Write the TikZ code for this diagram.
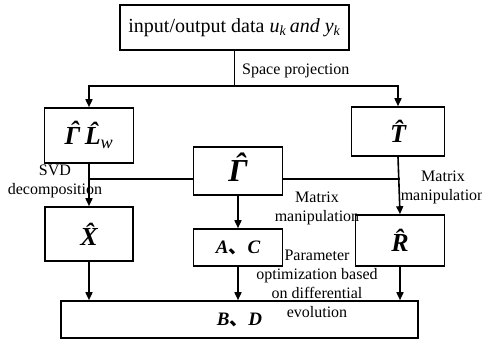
\documentclass[tikz,border=0pt]{standalone}
\usepackage{fontspec}
\setmainfont{Liberation Serif}
\newfontfamily\cjk{Noto Sans CJK SC}
\usetikzlibrary{positioning,arrows.meta,calc}
\newcommand{\hatgam}{\ooalign{Γ\cr\hidewidth\kern0.12em\raisebox{0.2em}{ˆ}\hidewidth\cr}}

\begin{document}
\begin{tikzpicture}[
    x=1pt, y=-1pt,
    block/.style={
        rectangle,
        draw=black,
        line width=1.6pt,
        inner sep=0pt,
        align=center,
        fill=white
    },
    symbox/.style={
        block,
        minimum width=89pt,
        font=\fontsize{26}{28}\selectfont\bfseries\itshape
    },
    pairbox/.style={
        block,
        minimum height=37pt,
        font=\fontsize{19}{21}\selectfont\bfseries\itshape
    },
    note/.style={
        font=\fontsize{16}{19}\selectfont,
        align=center,
        inner sep=0pt
    },
    link/.style={line width=1.6pt},
    arrow/.style={line width=1.6pt, -{Triangle[length=8pt,width=7pt]}}
]
\useasboundingbox (0,0) rectangle (482,341);

\node (data) [block, minimum width=229pt, minimum height=45pt, font=\fontsize{20}{24}\selectfont] at (234.5,27.5)
    {input/output data \textit{u}\textsubscript{\textit{k}}\,\textit{and y}\textsubscript{\textit{k}}};

\node (gl) [symbox, minimum height=55pt] at (89,135.5)
    {\hatgam\,\^{L}\textsubscript{\mdseries\itshape w}};
\node (tt) [symbox, minimum width=93pt, minimum height=49pt] at (398,131.5) {\^{T}};
\node (gm) [symbox, minimum height=48pt, font=\fontsize{32}{34}\selectfont\bfseries\itshape] at (238,171) {\hatgam};

\node (xx) [symbox, minimum width=88pt, minimum height=54pt] at (89,234) {\^{X}};
\node (ac) [pairbox, minimum width=89pt] at (238,247.5) {A{\cjk 、}C};
\node (rr) [symbox, minimum height=51pt] at (400,240.5) {\^{R}};

\node (bd) [pairbox, minimum width=357pt] at (239.5,319.5) {B{\cjk 、}D};

\coordinate (split) at ($(data.south)+(0,35)$);

\node (lproj) [note, anchor=west] at (242,71) {Space projection};
\node (lsvd) [note] at (55,181) {SVD\\decomposition};
\node (lmid) [note] at (317,208) {Matrix\\manipulation};
\node (lright) [note] at (443,187) {Matrix\\manipulation};
\node (lopt) [note] at (317,283.5) {Parameter\\optimization based\\on differential\\evolution};

\draw [link] (data.south) -- (split);
\draw [arrow] (split) -| (gl.north);
\draw [arrow] (split) -| (tt.north);
\draw [arrow] (gl.south) -- (xx.north);
\draw [arrow] (tt.south) -- (rr.north);
\draw [link] (gm.190) -- (gm.190 -| xx.north);
\draw [link] (gm.350) -- (gm.350 -| rr.north);
\draw [arrow] (gm.south) -- (ac.north);
\draw [arrow] (xx.south) -- (xx.south |- bd.north);
\draw [arrow] (ac.south) -- (ac.south |- bd.north);
\draw [arrow] (rr.south) -- (rr.south |- bd.north);

\end{tikzpicture}
\end{document}
